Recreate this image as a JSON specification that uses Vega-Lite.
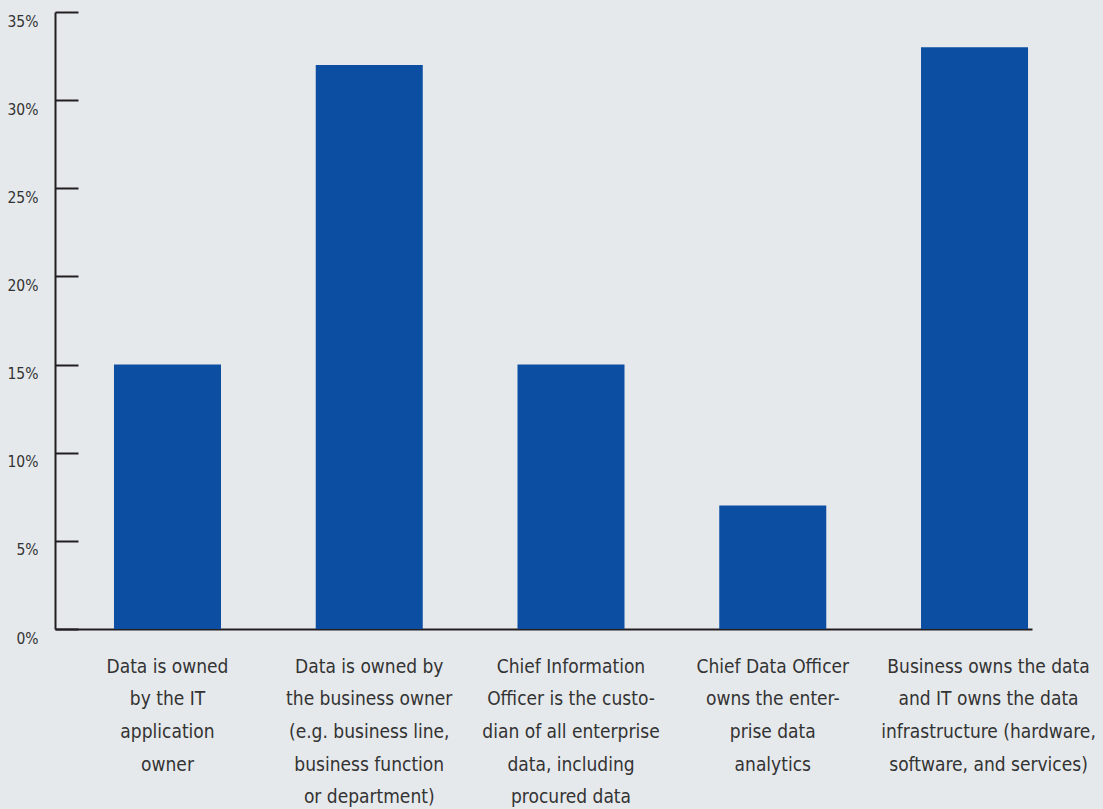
{
  "$schema": "https://vega.github.io/schema/vega-lite/v6.json",
  "autosize": "none",
  "width": 977,
  "height": 617,
  "padding": {"left": 55, "top": 12, "right": 71, "bottom": 180},
  "background": "#e6e9ec",
  "config": {
    "view": {"stroke": null},
    "font": "DejaVu Sans Condensed, sans-serif"
  },
  "data": {
    "values": [
      {"category": "Data is owned|by the IT|application|owner", "share": 0.15},
      {"category": "Data is owned by|the business owner|(e.g. business line,|business function|or department)", "share": 0.32},
      {"category": "Chief Information|Officer is the custo-|dian of all enterprise|data, including|procured data", "share": 0.15},
      {"category": "Chief Data Officer|owns the enter-|prise data|analytics", "share": 0.07},
      {"category": "Business owns the data|and IT owns the data|infrastructure (hardware,|software, and services)", "share": 0.33}
    ]
  },
  "mark": {"type": "bar", "color": "#0b4ea2"},
  "encoding": {
    "x": {
      "field": "category",
      "type": "nominal",
      "sort": null,
      "scale": {"paddingInner": 0.4696, "paddingOuter": 0.156, "align": 0.937},
      "axis": {
        "title": null,
        "labelAngle": 0,
        "labelExpr": "split(datum.label, '|')",
        "labelFontSize": 19,
        "labelLineHeight": 32.7,
        "labelColor": "#333333",
        "labelFont": "DejaVu Sans Condensed, sans-serif",
        "labelBaseline": "top",
        "labelPadding": 28,
        "labelLimit": 400,
        "labelOffset": {"condition": {"test": "indexof(datum.value, 'Business owns') === 0", "value": 14}, "value": 0},
        "ticks": false,
        "domainColor": "#231f20",
        "domainWidth": 2
      }
    },
    "y": {
      "field": "share",
      "type": "quantitative",
      "scale": {"domain": [0, 0.35], "nice": false},
      "axis": {
        "title": null,
        "format": "%",
        "values": [0, 0.05, 0.1, 0.15, 0.2, 0.25, 0.3, 0.35],
        "grid": false,
        "tickSize": -23,
        "tickWidth": 2,
        "tickColor": "#231f20",
        "domainColor": "#231f20",
        "domainWidth": 2,
        "labelFontSize": 15.5,
        "labelColor": "#333333",
        "labelFont": "DejaVu Sans Condensed, sans-serif",
        "labelBaseline": "top",
        "labelOffset": 2,
        "labelPadding": 40
      }
    }
  }
}
